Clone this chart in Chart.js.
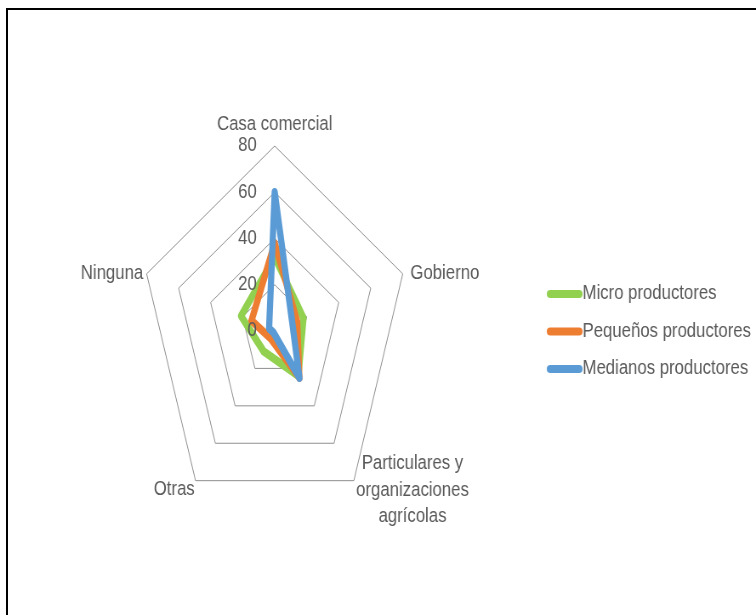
<!DOCTYPE html>
<html>
<head>
<meta charset="utf-8">
<script src="https://cdn.jsdelivr.net/npm/chart.js@4.4.1/dist/chart.umd.min.js"></script>
<style>
  html, body { margin: 0; padding: 0; background: #fff; width: 756px; height: 615px; overflow: hidden; }
  #frame { position: absolute; left: 6px; top: 8px; width: 800px; height: 700px; border-left: 2px solid #000; border-top: 2px solid #000; box-sizing: border-box; }
  #wrap { position: absolute; left: 0; top: 0; width: 889px; height: 615px; transform: scaleX(0.8504); transform-origin: 0 0; }
</style>
</head>
<body>
<div id="frame"></div>
<div id="wrap"><canvas id="c" width="889" height="615"></canvas></div>
<script>
// ---- data ----
const categories = ['Casa comercial', 'Gobierno', ['Particulares y', 'organizaciones', 'agrícolas'], 'Otras', 'Ninguna'];
const seriesNames = ['Micro productores', 'Pequeños productores', 'Medianos productores'];
const microValues = [32, 18, 24, 11, 21];
const pequenosValues = [38, 14, 25, 4, 14.5];
const medianosValues = [60, 11, 25, 1, 3.5];
const tickLabels = ['0', '20', '40', '60', '80'];
const seriesColors = ['#92D050', '#ED7D31', '#5B9BD5'];

const SX = 0.856;          // horizontal squash of the radar (plot area is not square)
const FONT = '19.7px "Liberation Sans", Arial, sans-serif';
const TEXT = '#595959';

const squashPlugin = {
  id: 'squash',
  beforeDraw(chart) {
    const s = chart.scales.r, ctx = chart.ctx;
    ctx.save();
    ctx.translate(s.xCenter, 0);
    ctx.scale(SX, 1);
    ctx.translate(-s.xCenter, 0);
  },
  afterDraw(chart) {
    const s = chart.scales.r, ctx = chart.ctx;
    ctx.restore();
    const px = (p) => s.xCenter + SX * (p.x - s.xCenter);
    ctx.save();
    ctx.font = FONT;
    ctx.fillStyle = TEXT;
    ctx.textBaseline = 'middle';
    // tick labels
    ctx.textAlign = 'right';
    tickLabels.forEach(t => {
      const d = s.getDistanceFromCenterForValue(Number(t));
      ctx.fillText(t, s.xCenter - 21, s.yCenter - d);
    });
    // point labels
    const place = [
      {align: 'center', dx: 0, dy: -21},
      {align: 'left', dx: 9, dy: 0},
      {align: 'center', dx: 69, dy: -17},
      {align: 'right', dx: -1, dy: 9},
      {align: 'right', dx: -4, dy: 0}
    ];
    categories.forEach((lab, i) => {
      const p = s.getPointPosition(i, s.drawingArea);
      const x = px(p), y = p.y;
      const pl = place[i];
      ctx.textAlign = pl.align;
      const lines = Array.isArray(lab) ? lab : [lab];
      lines.forEach((ln, k) => ctx.fillText(ln, x + pl.dx, y + pl.dy + k * 26.5));
    });
    // legend
    const lx0 = 643, lx1 = 685, ly0 = 294, lstep = 37.5;
    chart.data.datasets.forEach((ds, i) => {
      const y = ly0 + i * lstep;
      ctx.strokeStyle = ds.borderColor;
      ctx.lineWidth = 8;
      ctx.lineCap = 'round';
      ctx.beginPath();
      ctx.moveTo(lx0 + 4, y);
      ctx.lineTo(lx1 - 4, y);
      ctx.stroke();
      ctx.textAlign = 'left';
      ctx.fillStyle = TEXT;
      ctx.fillText(ds.label, lx1, y);
    });
    ctx.restore();
  }
};

const valueSets = [microValues, pequenosValues, medianosValues];
const drawOrder = [3, 2, 1];

new Chart(document.getElementById('c'), {
  type: 'radar',
  data: {
    labels: categories,
    datasets: seriesNames.map((name, i) => ({
      label: name,
      data: valueSets[i],
      borderColor: seriesColors[i],
      backgroundColor: 'rgba(0,0,0,0)',
      fill: false,
      borderWidth: 8.5,
      borderJoinStyle: 'round',
      borderCapStyle: 'round',
      pointRadius: 0,
      pointHoverRadius: 0,
      tension: 0,
      order: drawOrder[i]
    }))
  },
  options: {
    responsive: false,
    animation: false,
    events: [],
    layout: { padding: { left: 138, right: 380, top: 146, bottom: 98 } },
    plugins: { legend: { display: false }, tooltip: { enabled: false }, title: { display: false } },
    scales: {
      r: {
        min: 0,
        max: 80,
        ticks: { stepSize: 20, display: false },
        pointLabels: { display: false },
        angleLines: { display: false },
        grid: { color: '#868686', lineWidth: 1 }
      }
    }
  },
  plugins: [squashPlugin]
});
</script>
</body>
</html>
